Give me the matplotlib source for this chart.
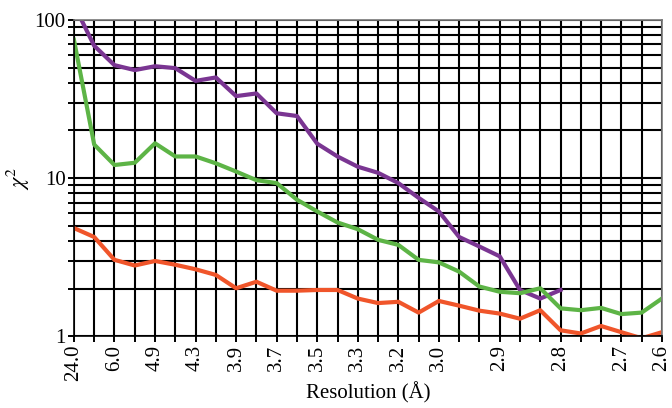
import matplotlib

matplotlib.use("Agg")

import matplotlib.pyplot as plt
import numpy as np

plt.rcParams["font.family"] = ["Liberation Serif", "DejaVu Serif"]
plt.rcParams["mathtext.fontset"] = "stix"

# resolution shell index -> tick label (only some shells are labelled)
shell_index = np.arange(30)
label_positions = [0, 2, 4, 6, 8, 10, 12, 14, 16, 18, 21, 24, 27, 29]
label_texts = ["24.0", "6.0", "4.9", "4.3", "3.9", "3.7", "3.5",
               "3.3", "3.2", "3.0", "2.9", "2.8", "2.7", "2.6"]

chi2_purple = [125, 68.7, 51.8, 48.2, 51.0, 49.6, 41.2, 43.3, 33.0, 34.3,
               25.7, 24.7, 16.5, 13.7, 11.8, 10.8, 9.3, 7.5, 6.15, 4.24,
               3.69, 3.2, 1.96, 1.73, 1.96]
chi2_green = [75, 16.3, 12.1, 12.5, 16.6, 13.7, 13.7, 12.4, 11.0, 9.7,
              9.3, 7.3, 6.15, 5.24, 4.75, 4.07, 3.78, 3.04, 2.93, 2.56,
              2.06, 1.91, 1.87, 2.01, 1.50, 1.46, 1.51, 1.38, 1.41, 1.73]
chi2_red = [4.83, 4.24, 3.04, 2.80, 2.99, 2.83, 2.65, 2.44, 2.01, 2.21,
            1.94, 1.94, 1.96, 1.96, 1.73, 1.62, 1.65, 1.41, 1.67, 1.56,
            1.45, 1.39, 1.29, 1.46, 1.09, 1.04, 1.16, 1.06, 0.97, 1.06]

COLORS = {
    "purple": "#7A3592",
    "green": "#5DB446",
    "red": "#F0552A",
}

fig = plt.figure(figsize=(6.72, 4.08), dpi=100)
ax = fig.add_axes([0.110, 0.176, 0.875, 0.775])

ax.plot(shell_index[: len(chi2_purple)], chi2_purple, color=COLORS["purple"], lw=3.0)
ax.plot(shell_index, chi2_green, color=COLORS["green"], lw=3.0)
ax.plot(shell_index, chi2_red, color=COLORS["red"], lw=3.0)

ax.set_yscale("log")
ax.set_ylim(1, 100)
ax.set_xlim(0, 29)

ax.set_xticks(shell_index)
tick_labels = [""] * len(shell_index)
for pos, text in zip(label_positions, label_texts):
    tick_labels[pos] = text
ax.set_xticklabels(tick_labels, rotation=90, fontsize=15)
ax.set_yticks([1, 10, 100])
ax.set_yticklabels(["1", "10", "100"], fontsize=15)
ax.yaxis.set_minor_formatter(matplotlib.ticker.NullFormatter())

ax.tick_params(which="both", direction="out", length=4, width=1.4, color="black", pad=2)
ax.grid(which="both", color="black", lw=1.5)
for spine in ax.spines.values():
    spine.set_color("black")
    spine.set_linewidth(1.2)
ax.spines["top"].set_color("#777777")
ax.spines["right"].set_color("#777777")

ax.set_xlabel("Resolution (Å)", fontsize=15, labelpad=1)
ax.set_ylabel(r"$\chi^2$", fontsize=16, labelpad=2)

fig.savefig("out.png", dpi=100, facecolor="white")
